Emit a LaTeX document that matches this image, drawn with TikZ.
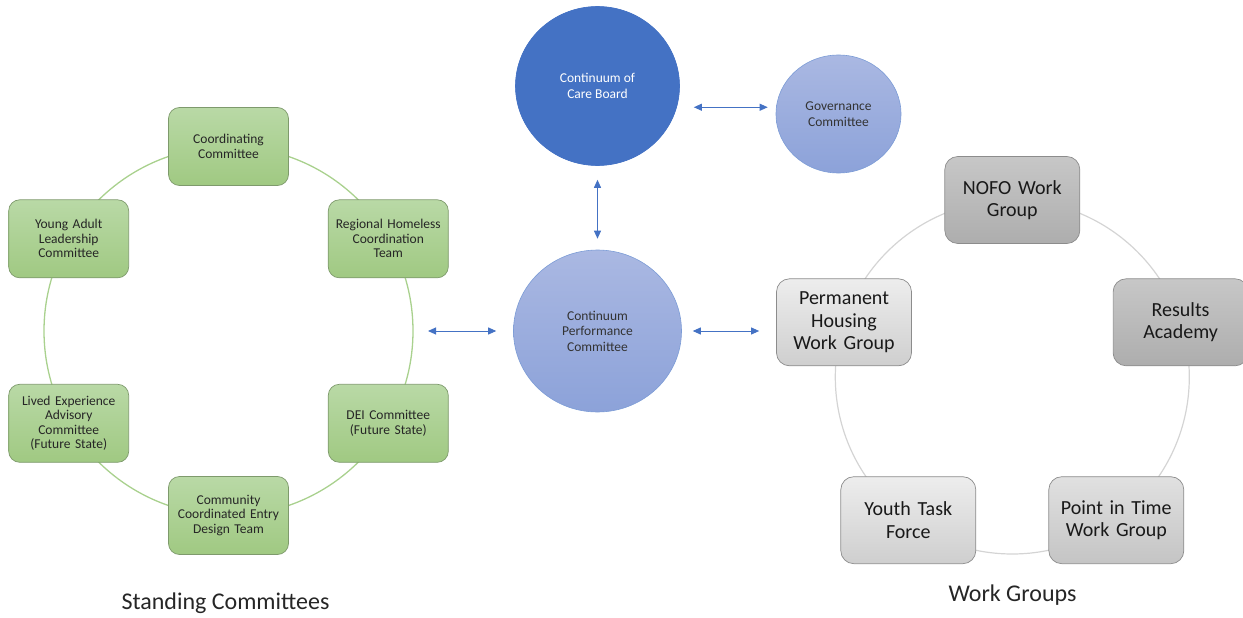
\documentclass[tikz,border=0pt]{standalone}
\usepackage{fontspec}
\setmainfont{Carlito}
\usetikzlibrary{shapes.geometric,arrows.meta}
\definecolor{ringgreen}{HTML}{A9D18E}
\definecolor{gtop}{HTML}{B9D9A6}
\definecolor{gbot}{HTML}{A0C982}
\definecolor{gline}{HTML}{7E9A6C}
\definecolor{cocblue}{HTML}{4472C4}
\definecolor{btop}{HTML}{AAB8E2}
\definecolor{bbot}{HTML}{8CA2D9}
\definecolor{ringgray}{HTML}{D4D4D4}
\definecolor{gray1}{HTML}{8C8C8C}
\tikzset{
  gbox/.style={draw=gline, line width=0.7pt, rounded corners=11pt, top color=gtop, bottom color=gbot,
    minimum width=120pt, minimum height=78pt, text width=112pt, align=center,
    font=\fontsize{13.5}{14.5}\selectfont, text=black!85},
  wbox/.style={draw=gray1, line width=0.7pt, rounded corners=13pt,
    minimum width=135pt, minimum height=87pt, text width=126pt, align=center,
    font=\fontsize{20}{22.5}\selectfont, text=black!90},
  bcirc/.style={ellipse, draw=cocblue!70, line width=0.6pt, top color=btop, bottom color=bbot, inner sep=0pt,
    align=center, font=\fontsize{13.5}{15.5}\selectfont, text=black!80},
  link/.style={<->, draw=cocblue, line width=0.9pt},
  title/.style={font=\fontsize{24}{26}\selectfont, text=black!85}
}
\begin{document}
\begin{tikzpicture}[x=1pt, y=-1pt, line join=round, line cap=round, >={Triangle[length=8pt,width=7pt]}]
  \useasboundingbox (0,0) rectangle (1243,618);
  % rings
  \draw[ringgreen, line width=1.3pt] (228.5,331) circle[radius=184.5];
  \draw[ringgray, line width=1.2pt] (1012.3,377) circle[radius=177];
  \coordinate (ringE) at (413,331);
  % standing committees
  \node[gbox] (coord) at (228.5,146.5) {Coordinating\\Committee};
  \node[gbox] (rhct) at (388.3,238.8) {Regional Homeless\\Coordination\\Team};
  \node[gbox] (dei) at (388.3,423.3) {DEI Committee\\(Future State)};
  \node[gbox] (cces) at (228.5,515.5) {Community\\Coordinated Entry\\Design Team};
  \node[gbox] (lived) at (68.7,423.3) {Lived Experience\\Advisory\\Committee\\(Future State)};
  \node[gbox] (yal) at (68.7,238.8) {Young Adult\\Leadership\\Committee};
  % board and committees
  \node[bcirc, fill=cocblue, draw=cocblue, top color=cocblue, bottom color=cocblue, text=white,
    minimum width=164pt, minimum height=159pt] (board) at (597.5,86) {Continuum of\\Care Board};
  \node[bcirc, minimum width=125pt, minimum height=118pt] (gov) at (838.5,114) {Governance\\Committee};
  \node[bcirc, minimum width=168pt, minimum height=162pt] (perf) at (597.5,331) {Continuum\\Performance\\Committee};
  % work groups
  \node[wbox, top color=black!22, bottom color=black!32] (nofo) at (1012.3,200) {NOFO Work\\Group};
  \node[wbox, top color=black!22, bottom color=black!32] (results) at (1180.6,322.3) {Results\\Academy};
  \node[wbox, top color=black!12, bottom color=black!23] (pit) at (1116.3,520.2) {Point in Time\\Work Group};
  \node[wbox, top color=black!7, bottom color=black!19] (ytf) at (908.3,520.2) {Youth Task\\Force};
  \node[wbox, top color=black!7, bottom color=black!19] (perm) at (844,322.3) {Permanent\\Housing\\Work Group};
  % arrows
  \draw[link, shorten <=17pt, shorten >=8pt] (board.-15) -- (board.-15 -| gov.west);
  \draw[link, shorten <=14pt, shorten >=11pt] (board.south) -- (perf.north);
  \draw[link, shorten <=15pt, shorten >=17pt] (ringE) -- (perf.west);
  \draw[link, shorten <=11pt, shorten >=17pt] (perf.east) -- (perf.east -| perm.west);
  % titles
  \node[title] (stand) at (225.5,603) {Standing Committees};
  \node[title] (wg) at (1012.5,595) {Work Groups};
\end{tikzpicture}
\end{document}
